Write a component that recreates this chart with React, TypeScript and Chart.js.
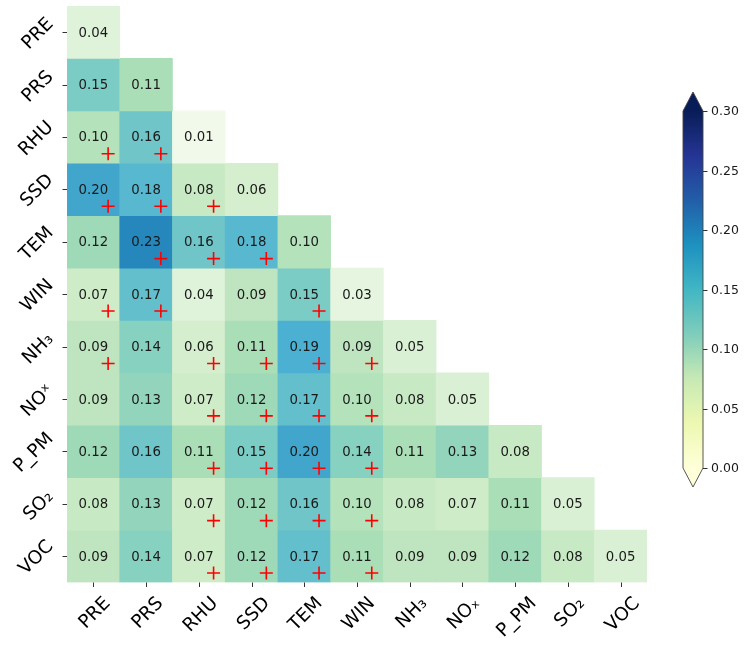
import React, { useEffect, useRef } from 'react';
import { Chart, registerables } from 'chart.js';
Chart.register(...registerables);

// ---------- DATA ----------
const rowLabels = ['PRE', 'PRS', 'RHU', 'SSD', 'TEM', 'WIN', 'NH₃', 'NOˣ', 'P_PM', 'SO₂', 'VOC'];
const colLabels = ['PRE', 'PRS', 'RHU', 'SSD', 'TEM', 'WIN', 'NH₃', 'NOₓ', 'P_PM', 'SO₂', 'VOC'];

const rowPRE = [0.04];
const rowPRS = [0.15, 0.11];
const rowRHU = [0.10, 0.16, 0.01];
const rowSSD = [0.20, 0.18, 0.08, 0.06];
const rowTEM = [0.12, 0.23, 0.16, 0.18, 0.10];
const rowWIN = [0.07, 0.17, 0.04, 0.09, 0.15, 0.03];
const rowNH3 = [0.09, 0.14, 0.06, 0.11, 0.19, 0.09, 0.05];
const rowNOx = [0.09, 0.13, 0.07, 0.12, 0.17, 0.10, 0.08, 0.05];
const rowPPM = [0.12, 0.16, 0.11, 0.15, 0.20, 0.14, 0.11, 0.13, 0.08];
const rowSO2 = [0.08, 0.13, 0.07, 0.12, 0.16, 0.10, 0.08, 0.07, 0.11, 0.05];
const rowVOC = [0.09, 0.14, 0.07, 0.12, 0.17, 0.11, 0.09, 0.09, 0.12, 0.08, 0.05];

// significance marks (1 = "+")
const sigPRE = [0];
const sigPRS = [0, 0];
const sigRHU = [1, 1, 0];
const sigSSD = [1, 1, 1, 0];
const sigTEM = [0, 1, 1, 1, 0];
const sigWIN = [1, 1, 0, 0, 1, 0];
const sigNH3 = [1, 0, 1, 1, 1, 1, 0];
const sigNOx = [0, 0, 1, 1, 1, 1, 0, 0];
const sigPPM = [0, 0, 1, 1, 1, 1, 0, 0, 0];
const sigSO2 = [0, 0, 1, 1, 1, 1, 0, 0, 0, 0];
const sigVOC = [0, 0, 1, 1, 1, 1, 0, 0, 0, 0, 0];

const colorbarTicks = [0.0, 0.05, 0.10, 0.15, 0.20, 0.25, 0.30];
const vMin = 0;
const vMax = 0.3;

const valueRows = [rowPRE, rowPRS, rowRHU, rowSSD, rowTEM, rowWIN, rowNH3, rowNOx, rowPPM, rowSO2, rowVOC];
const sigRows = [sigPRE, sigPRS, sigRHU, sigSSD, sigTEM, sigWIN, sigNH3, sigNOx, sigPPM, sigSO2, sigVOC];

// ---------- COLORMAPS ----------
const GnBu = ['#f7fcf0', '#e0f3db', '#ccebc5', '#a8ddb5', '#7bccc4', '#4eb3d3', '#2b8cbe', '#0868ac', '#084081'];
const YlGnBu = ['#ffffd9', '#edf8b1', '#c7e9b4', '#7fcdbb', '#41b6c4', '#1d91c0', '#225ea8', '#253494', '#081d58'];

function hexToRgb(h: string) {
  return [parseInt(h.slice(1, 3), 16), parseInt(h.slice(3, 5), 16), parseInt(h.slice(5, 7), 16)];
}
function cmap(stops: string[], t: number) {
  t = Math.max(0, Math.min(1, t));
  const n = stops.length - 1;
  const p = t * n;
  const i = Math.min(n - 1, Math.floor(p));
  const f = p - i;
  const a = hexToRgb(stops[i]);
  const b = hexToRgb(stops[i + 1]);
  const c = a.map((v, k) => Math.round(v + (b[k] - v) * f));
  return `rgb(${c[0]},${c[1]},${c[2]})`;
}

const FONT = '"DejaVu Sans", sans-serif';

function drawRotatedLabel(ctx: CanvasRenderingContext2D, text: string, cx: number, cy: number, size: number) {
  ctx.save();
  ctx.font = `${size}px ${FONT}`;
  ctx.translate(cx, cy);
  ctx.rotate(-Math.PI / 4);
  ctx.textAlign = 'center';
  ctx.textBaseline = 'alphabetic';
  ctx.fillStyle = '#000';
  ctx.fillText(text, 0, size * 0.365);
  ctx.restore();
}

const overlayPlugin = {
  id: 'overlay',
  afterDatasetsDraw(chart: any) {
    const { ctx, scales, chartArea } = chart;
    const x = scales.x;
    const y = scales.y;
    const cw = x.getPixelForTick(1) - x.getPixelForTick(0);
    ctx.save();
    // values & significance
    valueRows.forEach((row, i) => {
      row.forEach((v, j) => {
        const cx = x.getPixelForTick(j);
        const cy = y.getPixelForValue(i);
        ctx.font = `13.3px ${FONT}`;
        ctx.fillStyle = '#1a1a1a';
        ctx.textAlign = 'center';
        ctx.textBaseline = 'middle';
        ctx.fillText(v.toFixed(2), cx, cy + 1);
        if (sigRows[i][j]) {
          const px = cx + 0.28 * cw;
          const py = y.getPixelForValue(i + 0.32);
          ctx.strokeStyle = '#ff0000';
          ctx.lineWidth = 1.6;
          ctx.beginPath();
          ctx.moveTo(px - 6.5, py);
          ctx.lineTo(px + 6.5, py);
          ctx.moveTo(px, py - 6.5);
          ctx.lineTo(px, py + 6.5);
          ctx.stroke();
        }
      });
    });

    // tick marks
    ctx.strokeStyle = '#333';
    ctx.lineWidth = 1;
    const labSize = 18.5;
    ctx.font = `${labSize}px ${FONT}`;
    const capH = labSize * 0.73;
    rowLabels.forEach((lab, i) => {
      const py = Math.round(y.getPixelForValue(i)) + 0.5;
      ctx.beginPath();
      ctx.moveTo(chartArea.left - 4.5, py);
      ctx.lineTo(chartArea.left, py);
      ctx.stroke();
      ctx.font = `${labSize}px ${FONT}`;
      const w = ctx.measureText(lab).width;
      const bw = (w + capH) * Math.SQRT1_2;
      drawRotatedLabel(ctx, lab, chartArea.left - 13 - bw / 2, py, labSize);
    });
    colLabels.forEach((lab, j) => {
      const px = Math.round(x.getPixelForTick(j)) + 0.5;
      ctx.beginPath();
      ctx.moveTo(px, chartArea.bottom);
      ctx.lineTo(px, chartArea.bottom + 4.5);
      ctx.stroke();
      ctx.font = `${labSize}px ${FONT}`;
      const w = ctx.measureText(lab).width;
      const bh = (w + capH) * Math.SQRT1_2;
      drawRotatedLabel(ctx, lab, px, chartArea.bottom + 12 + bh / 2, labSize);
    });

    // colorbar
    const cbL = 683, cbR = 703, cbTop = 111, cbBot = 468, ext = 19;
    const valToY = (v: number) => cbBot - ((v - vMin) / (vMax - vMin)) * (cbBot - cbTop);
    const grad = ctx.createLinearGradient(0, cbBot, 0, cbTop);
    YlGnBu.forEach((c, k) => grad.addColorStop(k / (YlGnBu.length - 1), c));
    ctx.fillStyle = grad;
    ctx.fillRect(cbL, cbTop, cbR - cbL, cbBot - cbTop);
    // extend triangles
    ctx.fillStyle = YlGnBu[YlGnBu.length - 1];
    ctx.beginPath();
    ctx.moveTo(cbL, cbTop);
    ctx.lineTo((cbL + cbR) / 2, cbTop - ext);
    ctx.lineTo(cbR, cbTop);
    ctx.closePath();
    ctx.fill();
    ctx.fillStyle = YlGnBu[0];
    ctx.beginPath();
    ctx.moveTo(cbL, cbBot);
    ctx.lineTo((cbL + cbR) / 2, cbBot + ext);
    ctx.lineTo(cbR, cbBot);
    ctx.closePath();
    ctx.fill();
    // outline
    ctx.strokeStyle = '#444';
    ctx.lineWidth = 0.9;
    ctx.beginPath();
    ctx.moveTo(cbL, cbTop);
    ctx.lineTo((cbL + cbR) / 2, cbTop - ext);
    ctx.lineTo(cbR, cbTop);
    ctx.lineTo(cbR, cbBot);
    ctx.lineTo((cbL + cbR) / 2, cbBot + ext);
    ctx.lineTo(cbL, cbBot);
    ctx.closePath();
    ctx.stroke();
    // ticks
    ctx.strokeStyle = '#333';
    ctx.lineWidth = 1;
    ctx.font = `12.5px ${FONT}`;
    ctx.fillStyle = '#1a1a1a';
    ctx.textAlign = 'left';
    ctx.textBaseline = 'middle';
    colorbarTicks.forEach((t) => {
      const ty = Math.round(valToY(t)) + 0.5;
      ctx.beginPath();
      ctx.moveTo(cbR, ty);
      ctx.lineTo(cbR + 4.5, ty);
      ctx.stroke();
      ctx.fillText(t.toFixed(2), cbR + 8, ty + 0.5);
    });
    ctx.restore();
  },
};

export default function App() {
  const ref = useRef<HTMLCanvasElement | null>(null);
  useEffect(() => {
    if (!ref.current) return;
    const datasets = valueRows.map((row, i) => ({
      label: rowLabels[i],
      data: colLabels.map((_, j) => (j < row.length ? [i - 0.5, i + 0.5] : null)),
      backgroundColor: colLabels.map((_, j) => (j < row.length ? cmap(GnBu, (row[j] - vMin) / (vMax - vMin)) : 'rgba(0,0,0,0)')),
      borderWidth: 0,
      barPercentage: 1,
      categoryPercentage: 1,
      grouped: false,
    }));
    const chart = new Chart(ref.current, {
      type: 'bar',
      data: { labels: colLabels, datasets: datasets as any },
      options: {
        responsive: false,
        animation: false,
        layout: { padding: { left: 67, right: 101, top: 6, bottom: 64.5 } },
        plugins: { legend: { display: false }, tooltip: { enabled: false } },
        scales: {
          x: { type: 'category', display: false, offset: true, grid: { display: false } },
          y: { type: 'linear', display: false, reverse: true, min: -0.5, max: 10.5 },
        },
      },
      plugins: [overlayPlugin],
    });
    return () => chart.destroy();
  }, []);
  return (
    <div style={{ position: 'absolute', left: 0, top: 0, width: 748, height: 647, background: '#fff' }}>
      <canvas ref={ref} width={748} height={647} />
    </div>
  );
}
